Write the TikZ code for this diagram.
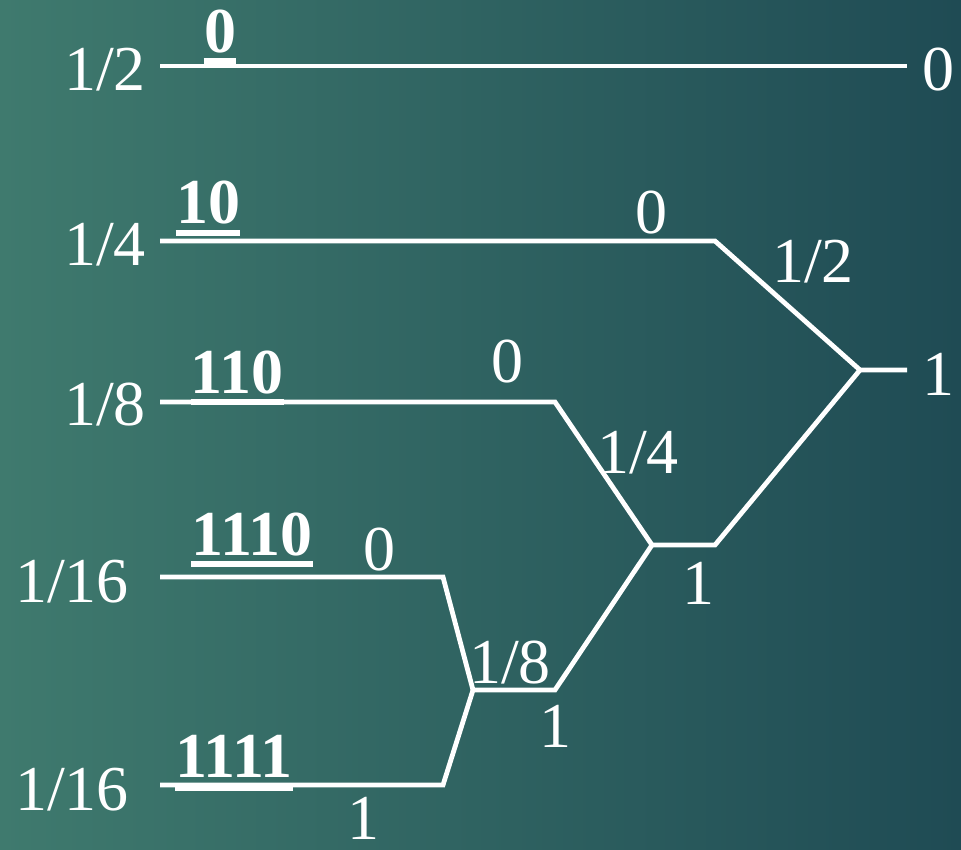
\documentclass[tikz,border=0pt]{standalone}
\usepackage{fontspec}
\setmainfont{Liberation Serif}
\definecolor{bgL}{HTML}{3F7A6E}
\definecolor{bgR}{HTML}{1F4B54}
\begin{document}
\begin{tikzpicture}[x=0.75pt,y=-0.75pt,
  lbl/.style={text=white,inner sep=0pt,anchor=base,font=\fontsize{48}{56}\selectfont},
  code/.style={lbl,font=\fontsize{48}{56}\selectfont\bfseries},
  wire/.style={draw=white,line width=3.6pt,line join=miter},
  ul/.style={draw=white,line width=3.8pt}]
\shade[left color=bgL,right color=bgR] (0,0) rectangle (961,850);
\useasboundingbox (0,0) rectangle (961,850);
% vertices
\coordinate (a0) at (160,66);  \coordinate (a1) at (907,66);
\coordinate (b0) at (160,241); \coordinate (b1) at (715,241);
\coordinate (r)  at (860,370); \coordinate (r1) at (907,370);
\coordinate (c0) at (160,402); \coordinate (c1) at (555,402);
\coordinate (j2) at (652,545); \coordinate (j2r) at (715,545);
\coordinate (d0) at (160,577); \coordinate (d1) at (443,577);
\coordinate (j3) at (473,690); \coordinate (j3r) at (555,690);
\coordinate (e0) at (160,785); \coordinate (e1) at (443,785);
% wires
\draw[wire] (a0) -- (a1);
\draw[wire] (b0) -- (b1) -- (r) -- (r1);
\draw[wire] (c0) -- (c1) -- (j2) -- (j2r) -- (r);
\draw[wire] (d0) -- (d1) -- (j3) -- (j3r) -- (j2);
\draw[wire] (e0) -- (e1) -- (j3);
% probabilities on the left
\node[lbl] (p1) at (105,90) {1/2};
\node[lbl] (p2) at (105,265) {1/4};
\node[lbl] (p3) at (105,425) {1/8};
\node[lbl] (p4) at (72,602) {1/16};
\node[lbl] (p5) at (72,810) {1/16};
% branch labels
\node[lbl] (t0) at (938,90) {0};
\node[lbl] (t1) at (938,395) {1};
\node[lbl] (l2a) at (651,233) {0};
\node[lbl] (l2b) at (813,282) {1/2};
\node[lbl] (l3a) at (507,382) {0};
\node[lbl] (l3b) at (638,473) {1/4};
\node[lbl] (l3c) at (698,604) {1};
\node[lbl] (l4a) at (379,570) {0};
\node[lbl] (l4b) at (510,683) {1/8};
\node[lbl] (l4c) at (555,747) {1};
\node[lbl] (l5a) at (363,839) {1};
% codes
\node[code] (k1) at (220,52) {0};
\node[code] (k2) at (208,223) {10};
\node[code] (k3) at (237,393) {110};
\node[code] (k4) at (252,555) {1110};
\node[code] (k5) at (234,777) {1111};
\foreach \k/\d in {k1/9,k2/10,k3/9,k4/9,k5/11}
  \draw[ul] ([yshift=-\d*0.75pt]\k.base west) -- ([yshift=-\d*0.75pt]\k.base east);
\end{tikzpicture}
\end{document}
